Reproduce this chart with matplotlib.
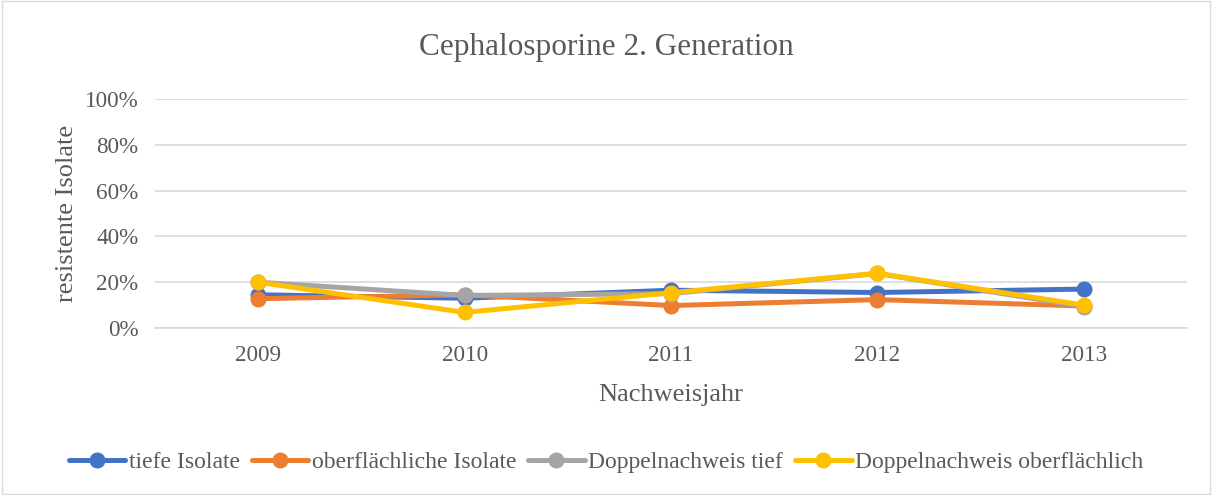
import matplotlib.pyplot as plt
from matplotlib.patches import Rectangle
from matplotlib.ticker import PercentFormatter

years = ['2009', '2010', '2011', '2012', '2013']
tiefe = [14.5, 13.0, 16.5, 15.5, 17.0]
oberflaechlich = [12.8, 14.5, 9.8, 12.4, 9.6]
doppel_tief = [20.0, 14.2, 15.0, 23.8, 9.3]
doppel_oberfl = [20.0, 6.8, 15.4, 23.9, 10.0]

series = [
    ('tiefe Isolate', tiefe, '#4472C4'),
    ('oberflächliche Isolate', oberflaechlich, '#ED7D31'),
    ('Doppelnachweis tief', doppel_tief, '#A5A5A5'),
    ('Doppelnachweis oberflächlich', doppel_oberfl, '#FFC000'),
]

plt.rcParams['font.family'] = ['Liberation Serif', 'DejaVu Serif']
TXT = '#595959'

fig = plt.figure(figsize=(12.12, 4.95), dpi=100)
ax = fig.add_axes([155 / 1212, 1 - 328 / 495, 1032 / 1212, 229 / 495])

x = list(range(len(years)))
for name, vals, col in series:
    ax.plot(x, vals, color=col, lw=3.6, marker='o', ms=10.5, label=name,
            solid_capstyle='round', solid_joinstyle='round')

ax.set_xlim(-0.5, len(years) - 0.5)
ax.set_ylim(0, 100)
ax.set_yticks([0, 20, 40, 60, 80, 100])
ax.yaxis.set_major_formatter(PercentFormatter(decimals=0))
ax.set_xticks(x)
ax.set_xticklabels(years)
ax.grid(axis='y', color='#D9D9D9', lw=1.2)
ax.set_axisbelow(True)
for s in ['top', 'right', 'left']:
    ax.spines[s].set_visible(False)
ax.spines['bottom'].set_color('#D9D9D9')
ax.spines['bottom'].set_linewidth(1.2)
ax.tick_params(length=0, labelsize=16.7, colors=TXT)
ax.tick_params(axis='y', pad=12)
ax.tick_params(axis='x', pad=12)

ax.set_xlabel('Nachweisjahr', fontsize=19, color=TXT, labelpad=13)
ax.set_ylabel('resistente Isolate', fontsize=19, color=TXT, labelpad=5)
fig.text(0.5, 1 - 47 / 495, 'Cephalosporine 2. Generation', ha='center',
         va='center', fontsize=22.5, color=TXT)

leg = fig.legend(loc='center', bbox_to_anchor=(0.5, 1 - 462 / 495), ncol=4,
                 frameon=False, fontsize=17, handlelength=2.4, handletextpad=0.15,
                 columnspacing=0.5, labelcolor=TXT)

fig.patches.append(Rectangle((0.002, 0.003), 0.996, 0.994, transform=fig.transFigure,
                             fill=False, edgecolor='#D9D9D9', lw=1))

fig.savefig('out.png', dpi=100)
